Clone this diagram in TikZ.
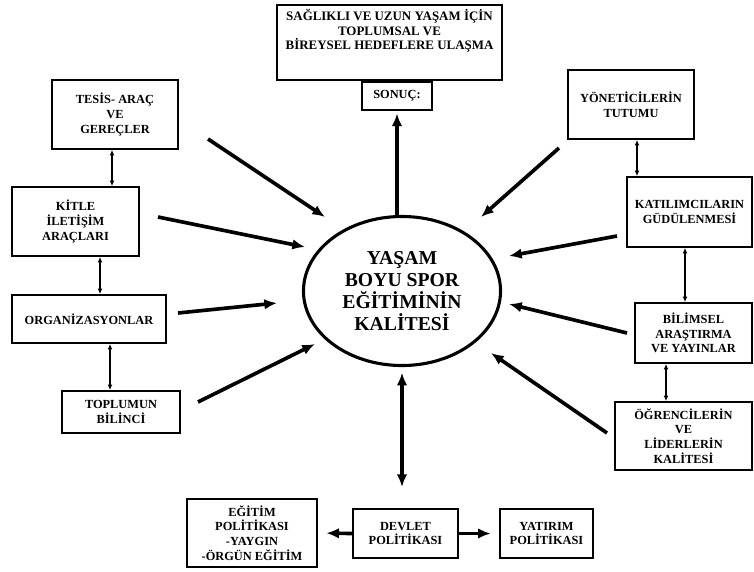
\documentclass[tikz,border=0pt]{standalone}
\usepackage{fontspec}
\setmainfont{Liberation Serif}
\usetikzlibrary{positioning, arrows.meta, calc, shapes.geometric}

\begin{document}
\begin{tikzpicture}[
    x=0.025cm, y=-0.025cm,
    box/.style={draw=black, line width=1.2pt, inner sep=1pt,
                align=center, font=\fontsize{8.8}{10.5}\selectfont\bfseries},
    core/.style={draw=black, ellipse, line width=2.2pt,
                 minimum width=4.925cm, minimum height=3.725cm,
                 align=center, font=\fontsize{14}{15.6}\selectfont\bfseries},
    flow/.style={-{Latex[length=9pt,width=7.5pt]}, line width=2.6pt},
    twoway/.style={{Latex[length=9pt,width=7.5pt]}-{Latex[length=9pt,width=7.5pt]}, line width=2.6pt},
    link/.style={{Latex[length=4pt,width=3.5pt]}-{Latex[length=4pt,width=3.5pt]}, line width=0.9pt},
]
\useasboundingbox (0,0) rectangle (754,571);

% Centre
\node[core] (kalite) at (402,291) {YAŞAM\\BOYU SPOR\\EĞİTİMİNİN\\KALİTESİ};

% Result (top)
\node[box, anchor=north, minimum width=5.625cm, inner ysep=3.5pt, text depth=18.5pt,
      font=\fontsize{9.2}{10}\selectfont\bfseries] (hedef) at (389.5,4)
  {SAĞLIKLI VE UZUN YAŞAM İÇİN\\TOPLUMSAL VE\\BİREYSEL HEDEFLERE ULAŞMA};
\node[box, minimum width=1.75cm, minimum height=0.7cm, below=0pt of hedef, xshift=0.1875cm] (sonuc) {SONUÇ:};

% Left column
\node[box, minimum width=3.15cm, minimum height=1.725cm] (tesis) at (115,114.5) {TESİS- ARAÇ\\VE\\GEREÇLER};
\node[box, minimum width=3.175cm, minimum height=1.725cm] (kitle) at (75.5,221.5) {KİTLE\\İLETİŞİM\\ARAÇLARI};
\node[box, minimum width=3.85cm, minimum height=1.2cm] (org) at (89,319) {ORGANİZASYONLAR};
\node[box, minimum width=2.95cm, minimum height=1.05cm] (toplum) at (121,412) {TOPLUMUN\\BİLİNCİ};

% Right column
\node[box, minimum width=3.15cm, minimum height=1.725cm] (yonetici) at (631,104.5) {YÖNETİCİLERİN\\TUTUMU};
\node[box, minimum width=3.125cm, minimum height=1.75cm] (katilim) at (689.5,212) {KATILIMCILARIN\\GÜDÜLENMESİ};
\node[box, minimum width=2.925cm, minimum height=1.5cm] (bilim) at (693.5,333) {BİLİMSEL\\ARAŞTIRMA\\VE YAYINLAR};
\node[box, minimum width=3.425cm, minimum height=1.7cm] (ogrenci) at (683.5,436) {ÖĞRENCİLERİN\\VE\\LİDERLERİN\\KALİTESİ};

% Bottom row
\node[box, minimum width=2.625cm, minimum height=1.225cm] (devlet) at (405.5,533.5) {DEVLET\\POLİTİKASI};
\node[box, minimum width=3.25cm, minimum height=1.7cm] (egitim) at (252,533) {EĞİTİM\\POLİTİKASI\\-YAYGIN\\-ÖRGÜN EĞİTİM};
\node[box, minimum width=2.325cm, minimum height=1.225cm] (yatirim) at (546.5,533.5) {YATIRIM\\POLİTİKASI};

% Free ends of the inputs
\coordinate (p1) at (208,139); \coordinate (q1) at (325,217);
\coordinate (p2) at (158,217); \coordinate (q2) at (305,247);
\coordinate (p3) at (178,313); \coordinate (q3) at (277,303);
\coordinate (p4) at (198,402); \coordinate (q4) at (315,344);
\coordinate (p5) at (559,148); \coordinate (q5) at (481,217);
\coordinate (p6) at (617,236); \coordinate (q6) at (509,256);
\coordinate (p7) at (627,333); \coordinate (q7) at (509,304);
\coordinate (p8) at (607,433); \coordinate (q8) at (491,353);

% Inputs to the centre
\draw[flow] (p1) -- (q1);
\draw[flow] (p2) -- (q2);
\draw[flow] (p3) -- (q3);
\draw[flow] (p4) -- (q4);
\draw[flow] (p5) -- (q5);
\draw[flow] (p6) -- (q6);
\draw[flow] (p7) -- (q7);
\draw[flow] (p8) -- (q8);

% Centre to result and to state policy
\draw[flow, shorten >=2pt] (kalite.north -| sonuc) -- (sonuc.south);
\draw[twoway, shorten <=4pt, shorten >=15pt] (kalite.south) -- (kalite.south |- devlet.north);
\draw[flow, shorten >=6pt] (devlet.west) -- (egitim.east);
\draw[flow, shorten >=6pt] (devlet.east) -- (yatirim.west);

% Links between neighbouring boxes
\coordinate (l1) at ($(tesis.south)+(-3,0)$);
\coordinate (l2) at ($(kitle.south)+(24.5,0)$);
\coordinate (l3) at ($(org.south)+(21,0)$);
\coordinate (l4) at ($(yonetici.south)+(6,0)$);
\coordinate (l5) at ($(katilim.south)+(-4.5,0)$);
\coordinate (l6) at ($(bilim.south)+(-27.5,0)$);
\draw[link] (l1) -- (l1 |- kitle.north);
\draw[link] (l2) -- (l2 |- org.north);
\draw[link] (l3) -- (l3 |- toplum.north);
\draw[link] (l4) -- (l4 |- katilim.north);
\draw[link] (l5) -- (l5 |- bilim.north);
\draw[link] (l6) -- (l6 |- ogrenci.north);

\end{tikzpicture}
\end{document}
